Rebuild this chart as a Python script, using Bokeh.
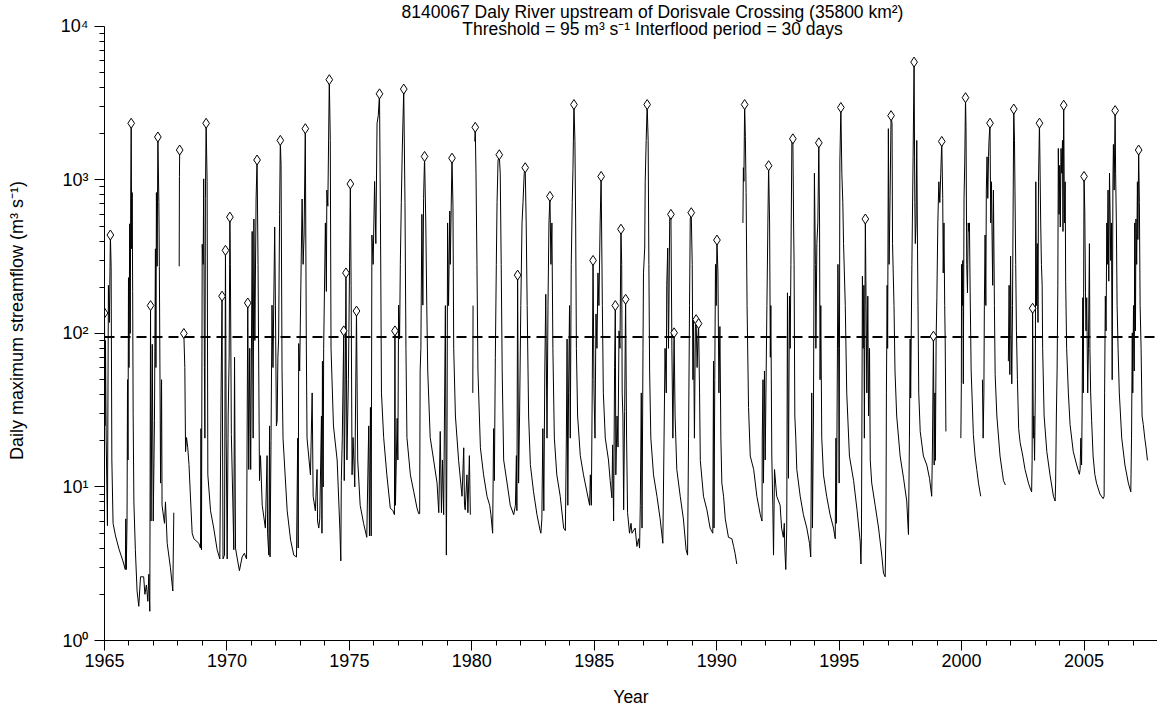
import math
from bokeh.plotting import figure
from bokeh.models import (ColumnDataSource, FixedTicker, SingleIntervalTicker,
                          Label, Span, Range1d)
from bokeh.embed import file_html
from bokeh.resources import INLINE

GAP = float("nan")

title_line1 = "8140067 Daly River upstream of Dorisvale Crossing (35800 km²)"
title_line2 = "Threshold = 95 m³ s⁻¹ Interflood period = 30 days"
x_label = "Year"
y_label = "Daily maximum streamflow (m³ s⁻¹)"
threshold = 95
y_tick_values = [1, 10, 100, 1000, 10000]
y_tick_labels = ["10⁰", "10¹", "10²", "10³", "10⁴"]

hydro_1965_1971 = [
    (1965.00, 136), (1965.02, 25), (1965.04, 90), (1965.07, 20), (1965.12, 5.6), (1965.16, 206),
    (1965.20, 118), (1965.24, 438), (1965.27, 274), (1965.30, 15), (1965.35, 5.8), (1965.45, 4.8),
    (1965.60, 3.9), (1965.75, 3.3), (1965.85, 2.9),
    (1965.87, 6.2), (1965.89, 2.9), (1965.92, 6.0), (1965.94, 50), (1965.96, 15), (1965.98, 231),
    (1966.00, 60), (1966.03, 518), (1966.05, 100), (1966.07, 752), (1966.09, 2340), (1966.11, 356),
    (1966.13, 828), (1966.15, 188), (1966.17, 30), (1966.20, 8.0), (1966.26, 3.9), (1966.33, 2.1),
    (1966.40, 1.67), (1966.47, 2.6), (1966.60, 2.6), (1966.65, 2.0), (1966.71, 2.3), (1966.77, 1.8),
    (1966.81, 2.7), (1966.85, 1.55),
    (1966.88, 152), (1966.90, 6.0), (1966.95, 85), (1966.99, 6.0), (1967.04, 27), (1967.08, 356),
    (1967.10, 60), (1967.12, 828), (1967.15, 274), (1967.18, 1905), (1967.22, 713), (1967.24, 274),
    (1967.29, 10.6), (1967.33, 50), (1967.35, 7.6), (1967.45, 5.8), (1967.49, 8.0), (1967.56, 4.3),
    (1967.69, 3.0), (1967.79, 2.1), (1967.83, 6.8), (1967.94, GAP),
    (1968.05, 274), (1968.06, 1054), (1968.07, 1567), (1968.15, GAP),
    (1968.24, 100), (1968.28, 60), (1968.31, 17), (1968.35, 21), (1968.40, 18), (1968.45, 14),
    (1968.51, 8.6), (1968.58, 5.0), (1968.65, 4.6), (1968.85, 4.3), (1968.92, 4.0),
    (1968.94, 24), (1968.96, 3.9), (1968.99, 381), (1969.03, 282), (1969.05, 1017), (1969.08, 60),
    (1969.10, 20.8), (1969.12, 759), (1969.15, 2340), (1969.19, 973), (1969.22, 12), (1969.33, 7.0),
    (1969.46, 5.4), (1969.60, 3.9), (1969.71, 3.4),
    (1969.76, 41), (1969.80, 175), (1969.84, 3.4), (1969.90, 3.6), (1969.94, 348), (1969.97, 20.8),
    (1970.01, 3.4), (1970.05, 29), (1970.09, 70), (1970.12, 573), (1970.14, 282), (1970.18, 22),
    (1970.24, 8.0), (1970.28, 3.9), (1970.31, 70), (1970.35, 4.0), (1970.41, 3.5), (1970.51, 2.85),
    (1970.62, 3.5), (1970.71, 3.7), (1970.80, 3.4),
    (1970.85, 158), (1970.89, 13), (1970.93, 80), (1970.97, 13), (1971.03, 462), (1971.07, 20.8),
    (1971.10, 557), (1971.14, 90), (1971.19, 752), (1971.23, 1349), (1971.27, 282), (1971.33, 11),
    (1971.37, 16), (1971.44, 7.6), (1971.57, 5.4), (1971.64, 16), (1971.66, 5.0), (1971.71, 3.6),
]

hydro_1971_1978 = [
    (1971.74, 25), (1971.76, 3.5), (1971.80, 20), (1971.84, 153), (1971.88, 60), (1971.95, 494),
    (1971.98, 153), (1972.02, 25), (1972.05, 27), (1972.08, 70), (1972.11, 92), (1972.15, 597),
    (1972.18, 1811), (1972.21, 1247), (1972.25, 57), (1972.29, 20.8), (1972.46, 7.0), (1972.60, 4.5),
    (1972.73, 3.6), (1972.84, 3.5),
    (1972.89, 20.8), (1972.91, 4.0), (1972.93, 86), (1972.97, 57), (1973.03, 282), (1973.07, 752),
    (1973.11, 282), (1973.15, 438), (1973.20, 2158), (1973.24, 92), (1973.27, 20.8), (1973.41, 12),
    (1973.48, 41), (1973.52, 8.7), (1973.61, 7.0), (1973.68, 13), (1973.70, 6.0), (1973.75, 5.4),
    (1973.79, 6.2), (1973.86, 29), (1973.88, 5.0), (1973.90, 66), (1973.93, 10), (1973.95, 80),
    (1974.02, 525), (1974.06, 188), (1974.08, 859), (1974.12, 675), (1974.18, 4500), (1974.22, 1811),
    (1974.25, 80), (1974.35, 25), (1974.50, 15), (1974.61, 5.4), (1974.65, 3.3), (1974.67, 11),
    (1974.71, 20.8), (1974.77, 104), (1974.79, 11), (1974.82, 29), (1974.86, 248), (1974.90, 15),
    (1974.96, 50), (1975.04, 942), (1975.07, 206), (1975.11, 12), (1975.15, 21), (1975.22, 10),
    (1975.29, 140), (1975.34, 15), (1975.44, 7.6), (1975.58, 5.8), (1975.71, 4.7),
    (1975.79, 25), (1975.82, 4.8), (1975.86, 33), (1975.89, 4.8), (1975.92, 438), (1975.97, 282),
    (1976.03, 979), (1976.08, 385), (1976.13, 2340), (1976.18, 2624), (1976.23, 3640), (1976.27, 525),
    (1976.31, 41), (1976.40, 21), (1976.53, 12), (1976.67, 7.3), (1976.78, 7.0), (1976.84, 6.6),
    (1976.86, 104), (1976.88, 7.6), (1976.95, 28), (1976.98, 15), (1977.01, 153), (1977.05, 92),
    (1977.08, 282), (1977.12, 713), (1977.16, 1567), (1977.22, 3910), (1977.27, 713), (1977.31, 80),
    (1977.35, 21), (1977.49, 12), (1977.63, 9.3), (1977.76, 7.3), (1977.83, 6.7),
    (1977.87, 6.7), (1977.89, 57), (1977.92, 80), (1977.96, 597), (1978.00, 153), (1978.03, 759),
    (1978.07, 1422), (1978.12, 525), (1978.16, 152), (1978.20, 57), (1978.30, 21), (1978.44, 15),
    (1978.58, 10.6), (1978.65, 6.8),
]

hydro_1978_1985 = [
    (1978.71, 23), (1978.76, 6.8), (1978.80, 15), (1978.85, 6.6), (1978.92, 152), (1978.96, 3.6),
    (1978.99, 29), (1979.01, 525), (1979.05, 152), (1979.10, 628), (1979.12, 282), (1979.19, 1387),
    (1979.23, 675), (1979.26, 80), (1979.33, 29), (1979.46, 14.9), (1979.60, 8.7), (1979.67, 18),
    (1979.70, 7.6), (1979.73, 7.1), (1979.80, 12), (1979.84, 6.8), (1979.90, 16), (1979.94, 6.6),
    (1979.99, GAP),
    (1980.04, 41), (1980.05, 152), (1980.08, GAP),
    (1980.12, 1782), (1980.14, 2203), (1980.17, 1107), (1980.21, 282), (1980.25, 57), (1980.35, 18),
    (1980.48, 12), (1980.62, 8.7), (1980.73, 7.6), (1980.78, 6.6), (1980.85, 5.0),
    (1980.89, 24), (1980.92, 11), (1980.96, 70), (1981.00, 282), (1981.03, 713), (1981.07, 1328),
    (1981.12, 1459), (1981.16, 1107), (1981.20, 282), (1981.24, 57), (1981.30, 15), (1981.44, 10.6),
    (1981.57, 7.6), (1981.71, 6.6), (1981.78, 7.6), (1981.82, 16), (1981.84, 7.0),
    (1981.87, 240), (1981.91, 10.6), (1981.95, 29), (1982.00, 152), (1982.05, 525), (1982.09, 713),
    (1982.14, 1107), (1982.18, 1202), (1982.22, 525), (1982.26, 152), (1982.32, 29), (1982.39, 14),
    (1982.52, 9.3), (1982.66, 6.6), (1982.79, 5.2), (1982.82, 5.0),
    (1982.86, 6.2), (1982.90, 24), (1982.94, 7.0), (1982.98, 57), (1983.02, 180), (1983.07, 20.8),
    (1983.11, 152), (1983.15, 525), (1983.19, 782), (1983.23, 282), (1983.27, 525), (1983.31, 80),
    (1983.37, 20.8), (1983.47, 12), (1983.61, 8.7), (1983.75, 5.4), (1983.82, 5.2),
    (1983.86, 20.8), (1983.89, 92), (1983.92, 7.6), (1983.95, 41), (1983.99, 152), (1984.02, 20.8),
    (1984.06, 282), (1984.10, 713), (1984.13, 1172), (1984.17, 3100), (1984.21, 1811), (1984.24, 525),
    (1984.27, 80), (1984.32, 29), (1984.43, 16), (1984.56, 12), (1984.70, 9.3), (1984.81, 7.6),
    (1984.84, 12), (1984.88, 7.6),
    (1984.92, 50), (1984.95, 299), (1984.99, 41), (1985.03, 20.8), (1985.07, 134), (1985.11, 80),
    (1985.15, 248), (1985.19, 152), (1985.24, 525), (1985.28, 1054), (1985.33, 152), (1985.37, 41),
    (1985.45, 20.8), (1985.58, 15),
]

hydro_1985_1992 = [
    (1985.65, 11), (1985.72, 8.5), (1985.75, 18.8), (1985.79, 6.0), (1985.83, 60), (1985.86, 152),
    (1985.88, 12), (1985.93, 29), (1985.97, 18.2), (1986.01, 104), (1986.05, 80), (1986.09, 478),
    (1986.12, 282), (1986.14, 41), (1986.17, 29), (1986.20, 7.1), (1986.24, 31), (1986.28, 167),
    (1986.32, 20.8), (1986.36, 6.8), (1986.44, 5.0), (1986.50, 5.8), (1986.54, 5.0), (1986.67, 5.4),
    (1986.74, 4.1), (1986.81, 4.6), (1986.85, 4.0),
    (1986.88, 7.6), (1986.92, 41), (1986.95, 5.4), (1986.99, 80), (1987.01, 248), (1987.06, 360),
    (1987.08, 973), (1987.12, 1811), (1987.16, 3100), (1987.20, 1811), (1987.23, 282), (1987.26, 57),
    (1987.31, 20.8), (1987.42, 12), (1987.56, 8.7), (1987.69, 6.2), (1987.80, 4.3),
    (1987.85, 20.8), (1987.89, 80), (1987.94, 41), (1987.96, 206), (1988.00, 360), (1988.03, 80),
    (1988.05, 152), (1988.08, 557), (1988.13, 597), (1988.17, 80), (1988.21, 20.8), (1988.26, 101),
    (1988.30, 29), (1988.37, 13), (1988.51, 8.7), (1988.64, 6.2), (1988.75, 3.9), (1988.81, 3.6),
    (1988.85, 20.8), (1988.89, 152), (1988.92, 557), (1988.96, 612), (1989.00, 282), (1989.03, 50),
    (1989.05, 126), (1989.09, 20.8), (1989.13, 114), (1989.16, 123), (1989.20, 60), (1989.23, 90),
    (1989.26, 116), (1989.30, 41), (1989.33, 14.9), (1989.46, 8.7), (1989.60, 7.1), (1989.73, 5.4),
    (1989.84, 5.0),
    (1989.87, 66), (1989.89, 5.4), (1989.92, 50), (1989.95, 282), (1989.98, 152), (1990.01, 406),
    (1990.05, 248), (1990.09, 41), (1990.13, 111), (1990.17, 20.8), (1990.21, 10.6), (1990.28, 8.7),
    (1990.35, 6.2), (1990.48, 4.7), (1990.62, 4.6), (1990.69, 4.1), (1990.75, 3.7), (1990.82, 3.15),
    (1990.95, GAP),
    (1991.07, 525), (1991.09, 1202), (1991.11, 979), (1991.14, 3100), (1991.17, 1924), (1991.20, 828),
    (1991.24, 152), (1991.30, 33), (1991.37, 15.9), (1991.51, 13), (1991.64, 8.7), (1991.78, 6.6),
    (1991.85, 6.0),
    (1991.86, 20.8), (1991.89, 50), (1991.91, 10.6), (1991.95, 57), (1991.98, 15), (1992.05, 152),
    (1992.09, 525), (1992.12, 1239), (1992.16, 525), (1992.19, 70), (1992.21, 152), (1992.25, 15.9),
    (1992.29, 7.6), (1992.32, 3.6), (1992.36, 13), (1992.45, 8.7), (1992.59, 7.6),
]

hydro_1992_1999 = [
    (1992.65, 5.4), (1992.72, 4.7), (1992.76, 5.8), (1992.78, 4.0), (1992.82, 2.9),
    (1992.86, 5.4), (1992.89, 184), (1992.93, 11.4), (1992.97, 175), (1993.00, 80), (1993.03, 282),
    (1993.07, 1811), (1993.11, 1854), (1993.14, 525), (1993.16, 282), (1993.19, 29), (1993.23, 20.8),
    (1993.27, 13), (1993.41, 8.7), (1993.54, 6.6), (1993.68, 5.4), (1993.79, 4.3), (1993.84, 3.5),
    (1993.88, 41), (1993.91, 5.4), (1993.95, 29), (1993.99, 1107), (1994.03, 282), (1994.05, 80),
    (1994.09, 385), (1994.13, 525), (1994.17, 1746), (1994.20, 525), (1994.22, 50), (1994.25, 152),
    (1994.29, 20.8), (1994.36, 12), (1994.49, 8.7), (1994.63, 6.6), (1994.77, 5.4), (1994.84, 4.6),
    (1994.87, 20.8), (1994.89, 5.8), (1994.92, 41), (1994.95, 282), (1994.98, 80), (1995.00, 10.6),
    (1995.03, 1328), (1995.07, 2965), (1995.11, 1107), (1995.15, 713), (1995.18, 385), (1995.25, 152),
    (1995.31, 41), (1995.42, 15.9), (1995.59, 11), (1995.73, 7.1), (1995.86, 4.4), (1995.89, 3.15),
    (1995.91, 4.7), (1995.93, 29), (1995.95, 236), (1995.98, 80), (1996.01, 206), (1996.03, 20.8),
    (1996.07, 557), (1996.10, 152), (1996.13, 41), (1996.17, 175), (1996.20, 29), (1996.24, 80),
    (1996.27, 15), (1996.33, 10.6), (1996.47, 7.6), (1996.61, 5.4), (1996.74, 3.6), (1996.81, 2.75),
    (1996.88, 2.6),
    (1996.91, 5.4), (1996.93, 41), (1996.96, 206), (1996.98, 80), (1997.01, 2158), (1997.04, 282),
    (1997.08, 782), (1997.12, 2624), (1997.16, 2323), (1997.18, 385), (1997.24, 152), (1997.28, 57),
    (1997.35, 29), (1997.49, 15.9), (1997.63, 11.4), (1997.76, 8.1), (1997.83, 4.9),
    (1997.87, 20.8), (1997.90, 92), (1997.92, 38), (1997.97, 282), (1997.99, 525), (1998.02, 1416),
    (1998.06, 5860), (1998.09, 713), (1998.11, 385), (1998.14, 525), (1998.17, 1811), (1998.20, 360),
    (1998.22, 152), (1998.25, 41), (1998.31, 23), (1998.44, 15.9), (1998.58, 13.9), (1998.69, 11.4),
    (1998.78, 8.7),
    (1998.81, 18.2), (1998.85, 96), (1998.88, 13.9), (1998.91, 41), (1998.93, 14.9), (1998.96, 92),
    (1998.99, 171), (1999.03, 525), (1999.07, 973), (1999.11, 713), (1999.15, 1107), (1999.19, 1782),
    (1999.23, 759), (1999.25, 248), (1999.28, 525), (1999.31, 152), (1999.33, 92), (1999.36, 23),
    (1999.60, GAP),
]

hydro_2000_2007 = [
    (1999.97, 20.8), (1999.99, 47), (2000.00, 282), (2000.03, 152), (2000.05, 299), (2000.07, 47),
    (2000.10, 759), (2000.13, 1328), (2000.16, 3436), (2000.18, 2203), (2000.21, 282), (2000.24, 184),
    (2000.27, 525), (2000.30, 462), (2000.32, 525), (2000.35, 184), (2000.39, 57), (2000.43, 38),
    (2000.48, 22), (2000.55, 15.9), (2000.62, 13), (2000.69, 10.6), (2000.78, 8.7), (2000.81, GAP),
    (2000.85, 50), (2000.88, 20.8), (2000.91, 41), (2000.93, 152), (2000.96, 438), (2000.99, 152),
    (2001.01, 859), (2001.04, 1416), (2001.07, 759), (2001.10, 1416), (2001.12, 1811), (2001.16, 2344),
    (2001.19, 525), (2001.22, 973), (2001.25, 360), (2001.27, 206), (2001.30, 859), (2001.34, 152),
    (2001.37, 54), (2001.44, 29), (2001.57, 15.9), (2001.71, 11), (2001.79, 10.3), (2001.85, GAP),
    (2001.91, 66), (2001.94, 206), (2001.97, 54), (2002.00, 319), (2002.02, 111), (2002.05, 47),
    (2002.08, 152), (2002.10, 525), (2002.13, 2897), (2002.16, 1811), (2002.18, 859), (2002.21, 282),
    (2002.24, 104), (2002.28, 50), (2002.33, 24), (2002.39, 19.5), (2002.50, 15.9), (2002.59, 13),
    (2002.73, 10.6), (2002.82, 9.6), (2002.86, 9.3),
    (2002.88, 14.9), (2002.90, 146), (2002.93, 20.8), (2002.95, 29), (2002.98, 14.9), (2003.01, 41),
    (2003.03, 973), (2003.06, 152), (2003.09, 385), (2003.12, 118), (2003.14, 973), (2003.18, 2344),
    (2003.20, 1328), (2003.23, 525), (2003.26, 282), (2003.29, 206), (2003.31, 80), (2003.37, 29),
    (2003.48, 17), (2003.61, 12), (2003.75, 8.7), (2003.82, 8.1),
    (2003.84, 10.6), (2003.87, 29), (2003.90, 57), (2003.93, 206), (2003.95, 1604), (2003.98, 597),
    (2004.01, 1247), (2004.03, 494), (2004.06, 1604), (2004.09, 1107), (2004.12, 1811), (2004.14, 462),
    (2004.17, 3069), (2004.20, 525), (2004.23, 973), (2004.25, 219), (2004.29, 80), (2004.36, 41),
    (2004.43, 25.5), (2004.56, 17), (2004.70, 13.9), (2004.81, 12.1), (2004.84, 13),
    (2004.87, 20.8), (2004.90, 13.9), (2004.92, 29), (2004.95, 171), (2004.97, 41), (2005.00, 1054),
    (2005.03, 628), (2005.06, 184), (2005.08, 104), (2005.11, 171), (2005.15, 41), (2005.18, 80),
    (2005.22, 385), (2005.24, 80), (2005.27, 41), (2005.31, 27), (2005.37, 15.9), (2005.44, 12.1),
    (2005.51, 10.6), (2005.65, 9.0), (2005.78, 8.4), (2005.82, 8.7),
    (2005.84, 41), (2005.87, 175), (2005.90, 104), (2005.93, 525), (2005.95, 282), (2005.98, 859),
    (2006.01, 219), (2006.04, 1107), (2006.07, 525), (2006.09, 299), (2006.12, 525), (2006.15, 50),
    (2006.18, 973), (2006.20, 1703), (2006.23, 859), (2006.27, 2831), (2006.29, 1107), (2006.32, 525),
    (2006.35, 152), (2006.39, 80), (2006.44, 41), (2006.54, 20.8), (2006.67, 13.9), (2006.81, 10.6),
    (2006.91, 9.3),
    (2006.94, 20.8), (2006.97, 101), (2006.99, 41), (2007.02, 152), (2007.05, 57), (2007.07, 525),
    (2007.10, 104), (2007.12, 557), (2007.15, 282), (2007.18, 973), (2007.20, 409), (2007.23, 1567),
    (2007.26, 713), (2007.29, 152), (2007.33, 80), (2007.37, 29), (2007.42, 25.5), (2007.48, 20.8),
    (2007.53, 18.2), (2007.59, 14.9),
]

# independent flood peaks (diamonds)
peak_years = [1965.00, 1965.24, 1966.09, 1966.88, 1967.18, 1968.07, 1968.24, 1969.15, 1969.80,
              1969.94, 1970.12, 1970.85, 1971.23, 1972.18, 1973.20, 1974.18, 1974.77, 1974.86,
              1975.04, 1975.29, 1976.23, 1976.86, 1977.22, 1978.07, 1979.19, 1980.14, 1981.12,
              1981.87, 1982.18, 1983.19, 1984.17, 1984.95, 1985.28, 1985.86, 1986.09, 1986.28,
              1987.16, 1988.13, 1988.26, 1988.96, 1989.16, 1989.26, 1990.01, 1991.14, 1992.12,
              1993.11, 1994.17, 1995.07, 1996.07, 1997.12, 1998.06, 1998.85, 1999.19, 2000.16,
              2001.16, 2002.13, 2002.90, 2003.18, 2004.17, 2005.00, 2006.27, 2007.23]
peak_flows = [136, 438, 2340, 152, 1905, 1567, 100, 2340, 175,
              348, 573, 158, 1349, 1811, 2158, 4500, 104, 248,
              942, 140, 3640, 104, 3910, 1422, 1387, 2203, 1459,
              240, 1202, 782, 3100, 299, 1054, 152, 478, 167,
              3100, 597, 101, 612, 123, 116, 406, 3100, 1239,
              1854, 1746, 2965, 557, 2624, 5860, 96, 1782, 3436,
              2344, 2897, 146, 2344, 3069, 1054, 2831, 1567]

segments = [hydro_1965_1971, hydro_1971_1978, hydro_1978_1985,
            hydro_1985_1992, hydro_1992_1999, hydro_2000_2007]
flow_t = [pt[0] for seg in segments for pt in seg]
flow_q = [pt[1] for seg in segments for pt in seg]

FONT = "Liberation Sans"
x_start, x_end = 1965, 2008
frame_left_px = 104
frame_bottom_px = 641          # canvas y of the x axis
decade_px = 153.75             # pixels per decade on the log axis
top_px = 26                    # canvas y of 10^4
y_top_log = 4 + top_px / decade_px
year_px = (1157 - frame_left_px) / (x_end - x_start)


def canvas_y_to_flow(py):
    """Data-space y for a canvas pixel row (used only to place the title text)."""
    return 10 ** (4 - (py - top_px) / decade_px)


p = figure(width=1157, height=709,
           x_range=Range1d(x_start, x_end), y_range=Range1d(1, 10 ** y_top_log),
           y_axis_type="log", output_backend="svg", toolbar_location=None,
           min_border_left=frame_left_px, min_border_right=0, min_border_top=0,
           min_border_bottom=709 - frame_bottom_px)
p.outline_line_color = None
p.grid.visible = False
p.background_fill_color = "white"
p.border_fill_color = "white"

src = ColumnDataSource(data=dict(t=flow_t, q=flow_q))
p.line("t", "q", source=src, line_color="black", line_width=1)

p.add_layout(Span(location=threshold, dimension="width", line_color="black",
                  line_width=2, line_dash="10 6"))

p.scatter(peak_years, peak_flows, marker="diamond", size=10, fill_color="white",
          line_color="black", line_width=1)

# axes
xa = p.xaxis[0]
xa.ticker = SingleIntervalTicker(interval=5, num_minor_ticks=5)
xa.axis_label = x_label
ya = p.yaxis[0]
ya.ticker = FixedTicker(ticks=y_tick_values,
                        minor_ticks=[k * 10 ** e for e in range(0, 4) for k in range(2, 10)])
ya.major_label_overrides = {v: s for v, s in zip(y_tick_values, y_tick_labels)}
ya.bounds = (1, 10000)
ya.axis_label = y_label

for ax in (xa, ya):
    ax.axis_line_color = "black"
    ax.major_tick_line_color = "black"
    ax.minor_tick_line_color = "black"
    ax.major_tick_in = 0
    ax.minor_tick_in = 0
    ax.major_label_text_font = FONT
    ax.major_label_text_font_size = "18px"
    ax.major_label_text_color = "black"
    ax.axis_label_text_font = FONT
    ax.axis_label_text_font_style = "normal"
    ax.axis_label_text_color = "black"

xa.axis_label_text_font_size = "17.5px"
ya.axis_label_text_font_size = "18px"
xa.major_tick_out = 10
xa.minor_tick_out = 5
xa.major_label_standoff = 3
xa.axis_label_standoff = 17
ya.major_tick_out = 10
ya.minor_tick_out = 5
ya.major_label_standoff = 6
ya.axis_label_standoff = 31

title_x = x_start + (652 - frame_left_px) / year_px
p.add_layout(Label(x=title_x, y=canvas_y_to_flow(11.5), text=title_line1, text_align="center",
                   text_baseline="middle", text_font=FONT, text_font_size="17.5px",
                   text_color="black"))
p.add_layout(Label(x=title_x, y=canvas_y_to_flow(29), text=title_line2, text_align="center",
                   text_baseline="middle", text_font=FONT, text_font_size="17.5px",
                   text_color="black"))

open("out.html", "w").write(file_html(p, INLINE))
